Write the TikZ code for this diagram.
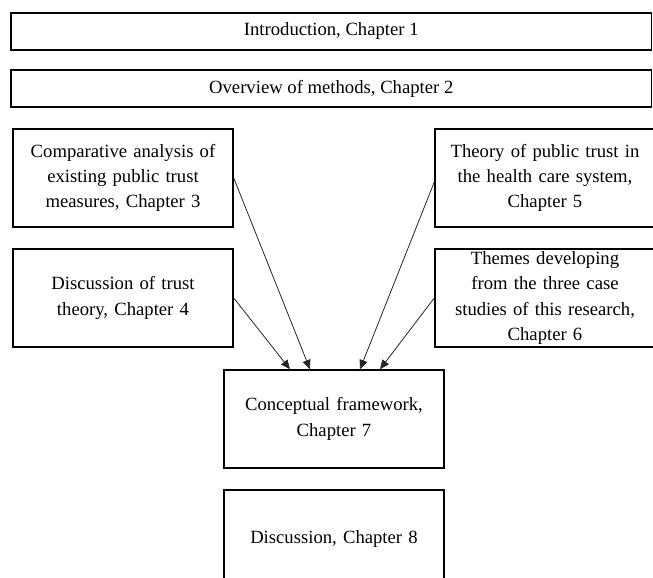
\documentclass[tikz,border=0pt]{standalone}
\usepackage{fontspec}
\setmainfont{Liberation Serif}
\usetikzlibrary{arrows.meta,calc,positioning}

\begin{document}
\begin{tikzpicture}[x=0.75pt,y=-0.75pt,
  box/.style={draw,line width=1.1pt,inner sep=0pt,align=center,
    font=\fontsize{14}{19}\selectfont},
  wide/.style={box,minimum width=480.4pt,minimum height=27.75pt},
  chap/.style={box,minimum width=165pt,minimum height=73.5pt,text width=160pt},
  feed/.style={line width=0.6pt,draw=black!85,-{Triangle[length=7pt,width=6pt]}}]
\clip (0,0) rectangle (653,578);
\node[wide] (intro) at (331.25,31.5) {Introduction, Chapter 1};
\node[wide] (methods) at (331.25,88.5) {Overview of methods, Chapter 2};
\node[chap] (compare) at (123,178) {Comparative analysis of\\ existing public trust\\ measures, Chapter 3};
\node[chap] (theory) at (123,298) {Discussion of trust\\ theory, Chapter 4};
\node[chap] (public) at (545,178) {Theory of public trust in\\ the health care system,\\ Chapter 5};
\node[chap] (themes) at (545,298) {Themes developing\\ from the three case\\ studies of this research,\\ Chapter 6};
\node[chap] (frame) at (334,419) {Conceptual framework,\\ Chapter 7};
\node[chap] (discuss) at (334,539) {Discussion, Chapter 8};
% arrow ends on the framework box
\coordinate (in1) at ($(frame.north)+(-44,0)$);
\coordinate (in2) at ($(frame.north)+(-24,0)$);
\coordinate (in3) at ($(frame.north)+(26,0)$);
\coordinate (in4) at ($(frame.north)+(46,0)$);
\draw[feed] (compare.east) -- (in2);
\draw[feed] (theory.east) -- (in1);
\draw[feed] ($(public.west)+(0,4)$) -- (in3);
\draw[feed] (themes.west) -- (in4);
\end{tikzpicture}
\end{document}
